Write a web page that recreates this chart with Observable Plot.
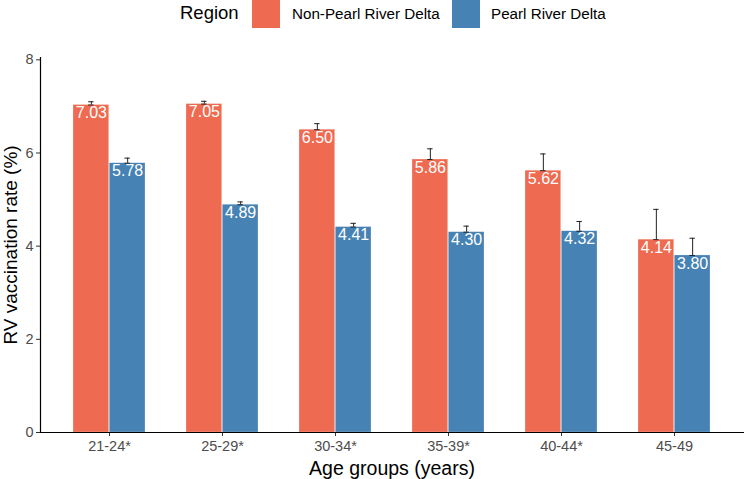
<!DOCTYPE html>
<html>
<head>
<meta charset="utf-8">
<script src="https://cdn.jsdelivr.net/npm/d3@7"></script>
<script src="https://cdn.jsdelivr.net/npm/@observablehq/plot@0.6"></script>
<style>
  body { margin: 0; background: #fff; font-family: "Liberation Sans", Arial, sans-serif; }
  #legend { height: 30px; position: relative; }
  #legend .t { position: absolute; top: 2px; font-size: 18.5px; color: #000; }
  #legend .sw { position: absolute; top: 0; width: 28px; height: 28px; }
  #legend .lab { position: absolute; top: 5px; font-size: 15.2px; color: #000; }
  svg { display: block; }
</style>
</head>
<body>
<div id="legend"></div>
<div id="chart"></div>
<script>
const ageGroups = ["21-24*", "25-29*", "30-34*", "35-39*", "40-44*", "45-49"];
const regions = ["Non-Pearl River Delta", "Pearl River Delta"];
const nonPRD = [7.03, 7.05, 6.50, 5.86, 5.62, 4.14];
const nonPRDUpper = [7.10, 7.11, 6.63, 6.09, 5.98, 4.79];
const prd = [5.78, 4.89, 4.41, 4.30, 4.32, 3.80];
const prdUpper = [5.89, 4.95, 4.49, 4.43, 4.53, 4.17];
const yTicks = [0, 2, 4, 6, 8];
const colors = ["#EE6A50", "#4682B4"];
const yLabel = "RV vaccination rate (%)";
const xLabel = "Age groups (years)";

const W = 744, H = 449;
const mL = 40, mR = 1, mT = 27, mB = 47;
const padInner = 0.36, padOuter = 0.28;
const step = (W - mL - mR) / (ageGroups.length - padInner + 2 * padOuter);
const bw = step * (1 - padInner);
const half = bw / 2;
const capHalf = 3;

const dataN = ageGroups.map((a, i) => ({age: a, region: regions[0], value: nonPRD[i], upper: nonPRDUpper[i]}));
const dataP = ageGroups.map((a, i) => ({age: a, region: regions[1], value: prd[i], upper: prdUpper[i]}));

function errMarks(data, offset) {
  const center = half + offset;
  return [
    Plot.ruleX(data, {x: "age", y1: "value", y2: "upper", dx: offset, stroke: "#222", strokeWidth: 1}),
    Plot.tickY(data, {x: "age", y: "upper", stroke: "#222", strokeWidth: 1,
      insetLeft: center - capHalf, insetRight: bw - center - capHalf}),
    Plot.tickY(data, {x: "age", y: "value", stroke: "#222", strokeWidth: 1,
      insetLeft: center - capHalf, insetRight: bw - center - capHalf})
  ];
}

const chart = Plot.plot({
  width: W, height: H,
  marginLeft: mL, marginRight: mR, marginTop: mT, marginBottom: mB,
  style: {fontFamily: "Liberation Sans, Arial, sans-serif", background: "#fff"},
  x: {domain: ageGroups, paddingInner: padInner, paddingOuter: padOuter, axis: null},
  y: {domain: [0, 8.05], axis: null},
  marks: [
    Plot.barY(dataN, {x: "age", y: "value", fill: colors[0], insetRight: half, stroke: "#fff", strokeWidth: 0.4, strokeOpacity: 0.6}),
    Plot.barY(dataP, {x: "age", y: "value", fill: colors[1], insetLeft: half, stroke: "#fff", strokeWidth: 0.4, strokeOpacity: 0.6}),
    ...errMarks(dataN, -half / 2),
    ...errMarks(dataP, half / 2),
    Plot.text(dataN, {x: "age", y: "value", text: d => d.value.toFixed(2), dx: -half / 2, dy: 8, fill: "#fff", fontSize: 16}),
    Plot.text(dataP, {x: "age", y: "value", text: d => d.value.toFixed(2), dx: half / 2, dy: 8, fill: "#fff", fontSize: 16}),
    Plot.axisY(yTicks, {ticks: yTicks, tickSize: 4, tickPadding: 3, fontSize: 14.5, color: "#4d4d4d", stroke: "#333", label: null}),
    Plot.axisX(ageGroups, {tickSize: 4, tickPadding: 4, fontSize: 14.5, color: "#4d4d4d", stroke: "#333", label: null}),
    Plot.text([yLabel], {text: d => d, frameAnchor: "left", textAnchor: "middle", lineAnchor: "middle", rotate: -90, dx: -29.5, fontSize: 19, fill: "#000"}),
    Plot.text([xLabel], {text: d => d, frameAnchor: "bottom", textAnchor: "middle", lineAnchor: "middle", dy: 36, fontSize: 19.5, fill: "#000"}),
    Plot.frame({anchor: "left", stroke: "#000", strokeWidth: 1.2}),
    Plot.frame({anchor: "bottom", stroke: "#000", strokeWidth: 1.2})
  ]
});
document.getElementById("chart").appendChild(chart);

const lg = document.getElementById("legend");
lg.innerHTML = `
  <span class="t" style="left:180px">Region</span>
  <span class="sw" style="left:252px;background:${colors[0]}"></span>
  <span class="lab" style="left:292px">${regions[0]}</span>
  <span class="sw" style="left:452px;background:${colors[1]}"></span>
  <span class="lab" style="left:491px">${regions[1]}</span>`;
</script>
</body>
</html>
